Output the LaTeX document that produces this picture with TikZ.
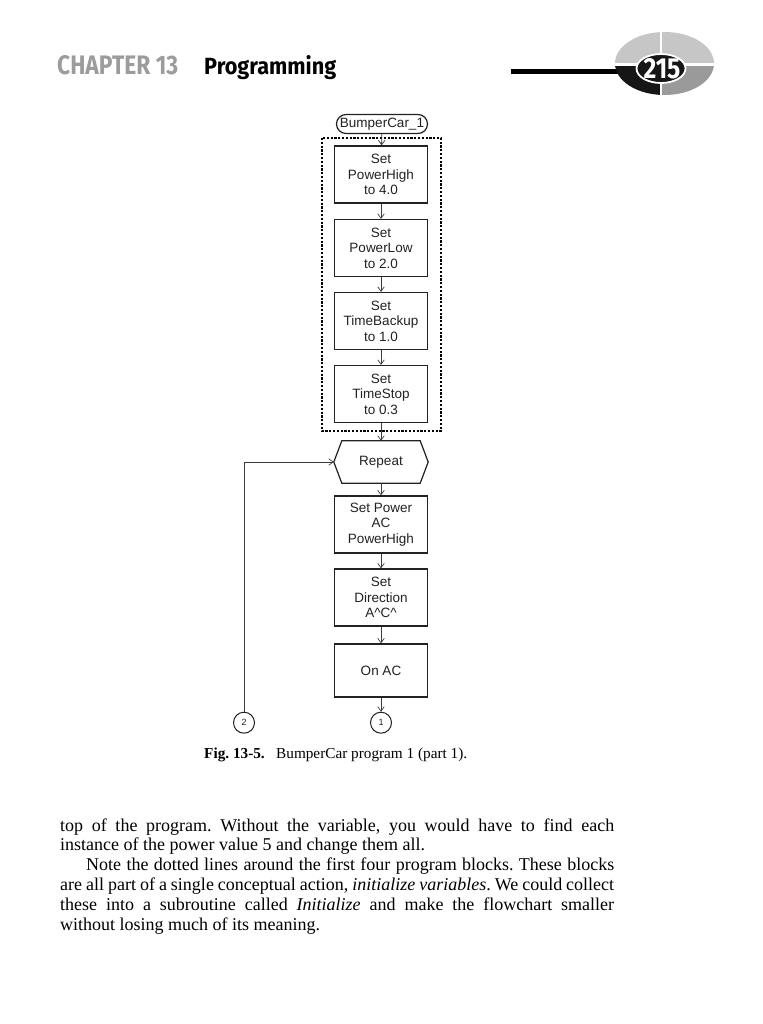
\documentclass[tikz,border=0pt]{standalone}
\usepackage{fontspec}
\setmainfont{Liberation Serif}
\newfontfamily\diagfont{Liberation Sans}
\newfontfamily\headfont{Fira Sans}
\usetikzlibrary{arrows.meta,shapes.misc}
\definecolor{ink}{HTML}{222222}
\definecolor{linkc}{HTML}{3C3C3C}
\definecolor{hgray}{HTML}{9C9C9C}
\definecolor{qlight}{HTML}{C6C6C6}
\definecolor{qmid}{HTML}{9A9A9A}
\definecolor{qdark}{HTML}{161616}
\frenchspacing
\tikzset{
  boxline/.style={draw=ink, line width=1.2pt},
  stepbox/.style={boxline, minimum width=93pt, minimum height=57pt, inner sep=0pt,
    align=center, font=\diagfont\fontsize{13.5}{15.5}\selectfont, text=ink},
  termbox/.style={boxline, rounded rectangle, minimum width=91pt, minimum height=19pt,
    inner sep=0pt, font=\diagfont\fontsize{13.5}{15.5}\selectfont, text=ink},
  connbox/.style={boxline, circle, line width=1pt, minimum size=21pt, inner sep=0pt,
    font=\diagfont\fontsize{9}{10}\selectfont, text=ink},
  link/.style={draw=linkc, line width=0.8pt, -{Straight Barb[length=4.5pt,width=6.5pt,line width=0.7pt]}},
  bodyline/.style={anchor=base west, inner sep=0pt, font=\fontsize{18}{19.8}\selectfont},
}
\begin{document}
\begin{tikzpicture}[x=1pt,y=-1pt]
\useasboundingbox[fill=white] (0,0) rectangle (762,1024);

% ---------- running head ----------
\node[anchor=base west, inner sep=0pt, text=hgray] (chap) at (57,75)
  {\resizebox{121pt}{19pt}{\headfont\bfseries CHAPTER 13}};
\node[anchor=base west, inner sep=0pt, text=black] (prog) at (204,75)
  {\resizebox{132pt}{19pt}{\headfont\bfseries Programming}};

% ---------- page-number emblem ----------
\fill[black] (511,69) rectangle (624,74);
\begin{scope}
  \clip (664.5,63.5) ellipse (49.5pt and 31.5pt);
  \fill[qlight] (610,28) rectangle (659.8,63);
  \fill[qlight] (662.2,28) rectangle (720,63);
  \fill[qdark] (610,66) rectangle (659.8,100);
  \fill[qmid] (662.2,66) rectangle (720,100);
\end{scope}
\fill[qdark, draw=white, line width=1.8pt] (661,68.5) ellipse (24.5pt and 14.5pt);
\node[inner sep=0pt, text=white] (pnum) at (662,68.5)
  {\resizebox{37pt}{20pt}{\headfont\bfseries 215}};

% ---------- flowchart ----------
\draw[draw=black, line width=1.5pt, dash pattern=on 2.2pt off 1.6pt] (322,138) rectangle (441,431);

\node[termbox] (start) at (382,124) {BumperCar\_1};
\node[stepbox] (b1) at (381,174.5) {Set\\PowerHigh\\to 4.0};
\node[stepbox] (b2) at (381,248) {Set\\PowerLow\\to 2.0};
\node[stepbox] (b3) at (381,321) {Set\\TimeBackup\\to 1.0};
\node[stepbox] (b4) at (381,394) {Set\\TimeStop\\to 0.3};
\node[minimum width=94pt, minimum height=42pt, inner sep=0pt,
      font=\diagfont\fontsize{13.5}{15.5}\selectfont, text=ink] (rep) at (381,462) {Repeat};
\draw[boxline] ([xshift=8pt]rep.north west) -- ([xshift=-8pt]rep.north east) -- (rep.east)
  -- ([xshift=-8pt]rep.south east) -- ([xshift=8pt]rep.south west) -- (rep.west) -- cycle;
\node[stepbox] (b5) at (381,524.5) {Set Power\\AC\\PowerHigh};
\node[stepbox] (b6) at (381,597.5) {Set\\Direction\\A\textasciicircum C\textasciicircum};
\node[stepbox, minimum height=53pt] (b7) at (381,670.5) {On AC};
\node[connbox] (c1) at (381,722.7) {1};
\node[connbox] (c2) at (244,722.7) {2};

\draw[link] (start) -- (b1);
\draw[link] (b1) -- (b2);
\draw[link] (b2) -- (b3);
\draw[link] (b3) -- (b4);
\draw[link] (b4) -- (rep);
\draw[link] (rep) -- (b5);
\draw[link] (b5) -- (b6);
\draw[link] (b6) -- (b7);
\draw[link] (b7) -- (c1);
\draw[link] (c2.north) |- (rep.west);

% ---------- caption ----------
\node[anchor=base west, inner sep=0pt, font=\fontsize{15.25}{18}\selectfont] (figlab) at (204,758)
  {\textbf{Fig. 13-5.}};
\node[anchor=base west, inner sep=0pt, font=\fontsize{15.25}{18}\selectfont] (figcap) at (276,758)
  {BumperCar program 1 (part 1).};

% ---------- body text ----------
\node[bodyline] (l1) at (60,831)
  {\makebox[554pt][s]{top of the program. Without the variable, you would have to find each}};
\node[bodyline] (l2) at (60,850.8)
  {instance of the power value 5 and change them all.};
\node[bodyline] (l3) at (86,870.6)
  {\makebox[528pt][s]{Note the dotted lines around the first four program blocks. These blocks}};
\node[bodyline] (l4) at (60,890.4)
  {\makebox[554pt][s]{are all part of a single conceptual action, \textit{initialize variables}. We could collect}};
\node[bodyline] (l5) at (60,910.2)
  {\makebox[554pt][s]{these into a subroutine called \textit{Initialize} and make the flowchart smaller}};
\node[bodyline] (l6) at (60,930)
  {without losing much of its meaning.};
\end{tikzpicture}
\end{document}
